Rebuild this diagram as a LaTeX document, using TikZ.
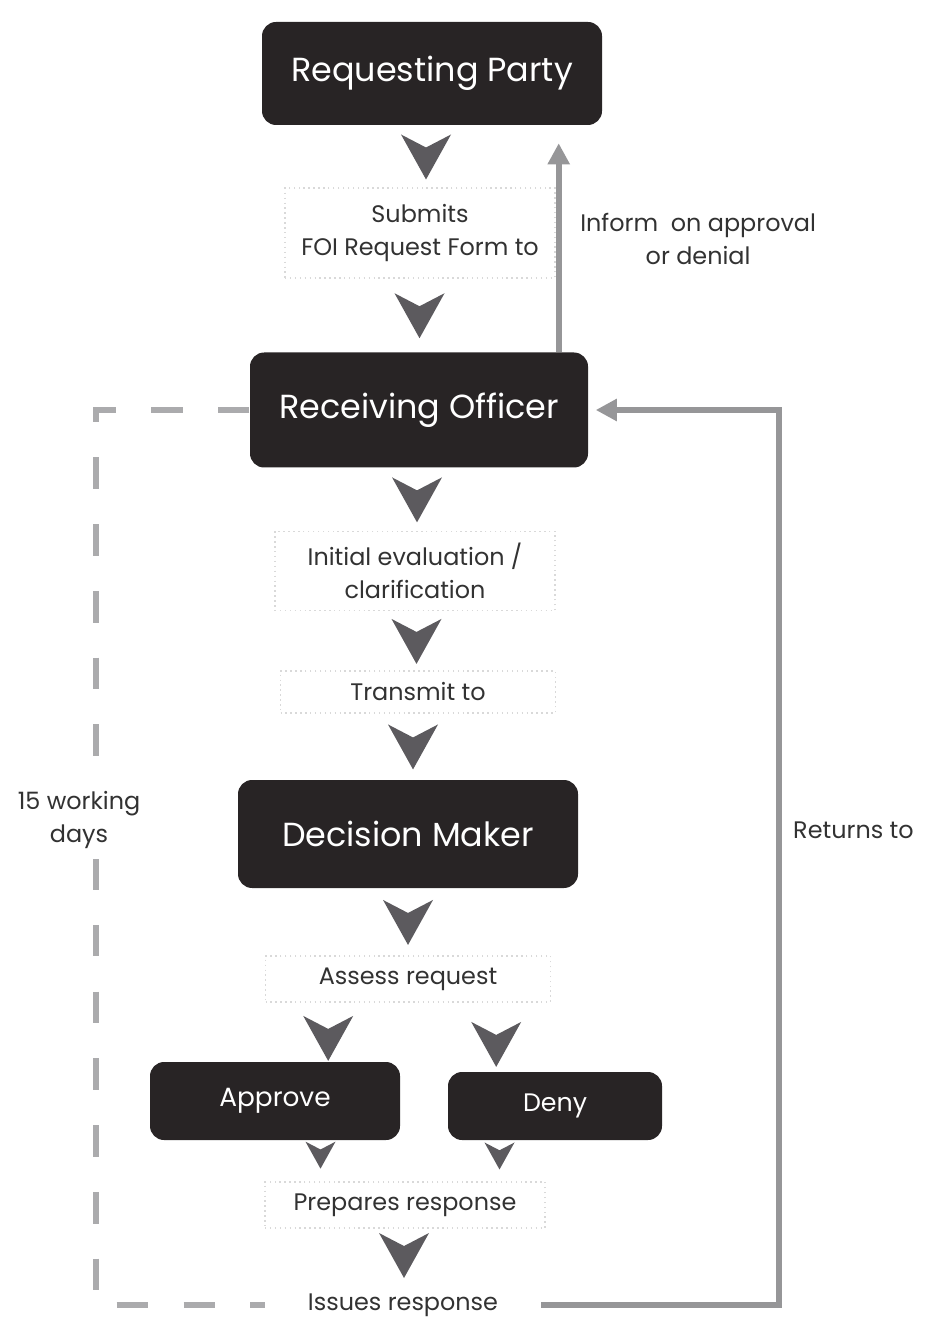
\documentclass[tikz,border=0pt]{standalone}
\usepackage{fontspec}
\setmainfont{Poppins}
\usepackage{tikz}
\usetikzlibrary{arrows.meta}
\usepackage{xcolor}
\definecolor{BoxDark}{RGB}{40,36,37}
\definecolor{ChevGray}{RGB}{92,90,94}
\definecolor{LineGray}{RGB}{150,150,152}
\definecolor{TextGray}{RGB}{50,50,50}
\tikzstyle{RoleBox}=[rectangle,rounded corners=4pt,fill=BoxDark,text=white,
font=\fontsize{9.5}{11}\selectfont]
\tikzstyle{StepBox}=[rectangle,draw=gray!30,densely dotted,text=TextGray,align=center,
font=\fontsize{6.8}{9.5}\selectfont]
\tikzstyle{NoteText}=[text=TextGray,align=center,font=\fontsize{6.8}{9.5}\selectfont]
\tikzstyle{FlowLine}=[LineGray,line width=1.6pt,-{Triangle[length=6pt,width=6pt]}]
\tikzstyle{TimeLine}=[LineGray!80,line width=1.8pt,dash pattern=on 9pt off 10pt]
\tikzset{chev/.pic={\fill[ChevGray](-0.25,-0.22)--(0,-0.09)--(0.25,-0.22)--(0,0.23)--cycle;}}

\begin{document}
\begin{tikzpicture}[y=-1cm]
        \useasboundingbox (0,0) rectangle (9.24,13.26);
        % actors
        \node[RoleBox,minimum width=3.40cm,minimum height=1.03cm](reqparty)at(4.32,0.735){Requesting Party};
        \node[RoleBox,minimum width=3.38cm,minimum height=1.15cm](recoff)at(4.19,4.10){Receiving Officer};
        \node[RoleBox,minimum width=3.40cm,minimum height=1.08cm](decmaker)at(4.08,8.34){Decision Maker};
        \node[RoleBox,minimum width=2.50cm,minimum height=0.78cm,font=\fontsize{7.5}{9}\selectfont](approve)at(2.75,11.01){Approve};
        \node[RoleBox,minimum width=2.14cm,minimum height=0.68cm,font=\fontsize{7.2}{9}\selectfont](deny)at(5.55,11.06){Deny};
        % steps
        \node[StepBox,minimum width=2.70cm,minimum height=0.90cm](submits)at(4.20,2.33){Submits\\FOI Request Form to};
        \node[StepBox,minimum width=2.80cm,minimum height=0.73cm](initeval)at(4.15,5.71){Initial evaluation /\\clarification};
        \node[StepBox,minimum width=2.75cm,minimum height=0.40cm](transmit)at(4.18,6.92){Transmit to};
        \node[StepBox,minimum width=2.85cm,minimum height=0.42cm](assess)at(4.08,9.79){Assess request};
        \node[StepBox,minimum width=2.80cm,minimum height=0.40cm](prepares)at(4.05,12.05){Prepares response};
        \node[StepBox,draw=none,minimum width=2.75cm,minimum height=0.40cm](issues)at(4.03,13.05){Issues response};
        % chevrons
        \path(reqparty.south)--(submits.north)pic[pos=.5]{chev};
        \path(submits.south)--(recoff.north)pic[pos=.5]{chev};
        \path(recoff.south)--(initeval.north)pic[pos=.5]{chev};
        \path(initeval.south)--(transmit.north)pic[pos=.5]{chev};
        \path(transmit.south)--(decmaker.north)pic[pos=.5]{chev};
        \path(decmaker.south)--(assess.north)pic[pos=.5]{chev};
        \path(assess.south)--(approve.north)pic[pos=.6]{chev};
        \path(assess.south)--(deny.north)pic[pos=.6]{chev};
        \path(approve.south)--(prepares.north)pic[pos=.35,scale=.6]{chev};
        \path(deny.south)--(prepares.north)pic[pos=.37,scale=.6]{chev};
        \path(prepares.south)--(issues.north)pic[pos=.5]{chev};
        % feedback lines
        \draw[FlowLine,shorten >=5pt]([xshift=-0.3cm]recoff.north east)--([xshift=-0.3cm]recoff.north east|-reqparty.south)
            node[NoteText,pos=.5,right=2pt]{Inform\ \ on approval\\or denial};
        \draw[FlowLine,shorten >=2pt](issues.east)-|([xshift=1.9cm]recoff.east)
            node[NoteText,pos=.765,right=0pt]{Returns to}--(recoff.east);
        \draw[TimeLine](recoff.west)-|([xshift=-1.53cm]recoff.west|-issues.west)--(issues.west);
        \node[NoteText,fill=white,inner sep=3pt](days)at(0.79,8.20){15 working\\days};
\end{tikzpicture}
\end{document}
